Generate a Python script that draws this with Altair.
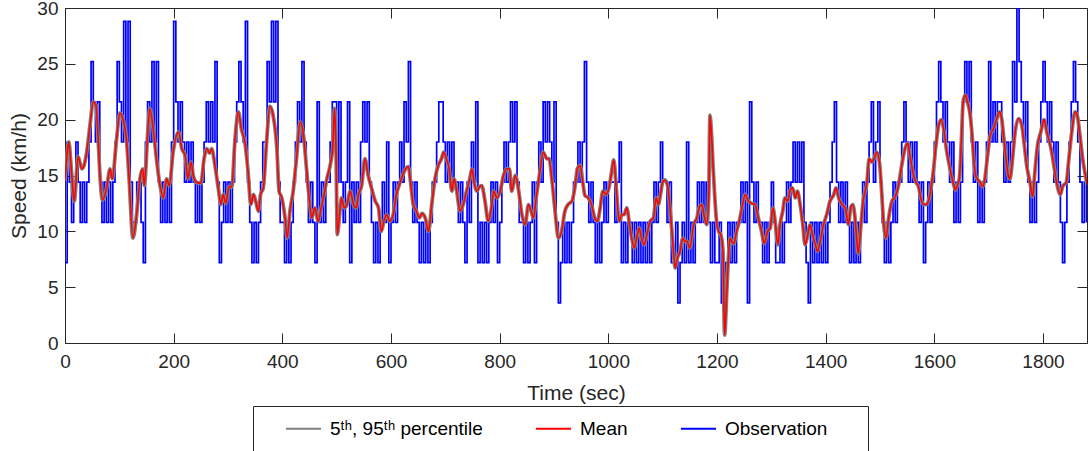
import altair as alt
import pandas as pd

# ---------------- data ----------------
SPEED_UNIT = 3.6   # observation levels are multiples of 3.6 km/h
OBS_STEP = 4       # one observation digit per 4 s

# observation: digit k -> k * 3.6 km/h, one digit per 4 s
obs_0000 = ("2543454343" "4576564343" "4345765858" "4334432565" "7574343435"
            "8656545454" "3434565657" "4234343456" "7658432323" "4557686843")
obs_0400 = ("3232345657" "5434326343" "4456646434" "6243435656" "4323234352"
            "3434546574" "3432323234" "4566545454" "4343243546" "2323234342")
obs_0800 = ("3454565643" "3232342454" "6565463123" "2323445457" "4343232343"
            "4443452323" "3232323232" "3434544342" "2312325232" "3434343232")
obs_1200 = ("2311232323" "3434164343" "3232343223" "2343454545" "3213232323"
            "2345643434" "3232323434" "5645643232" "3434456545" "4543423434")
obs_1600 = ("5676565453" "4346767545" "3434575656" "6545457697" "6564343456"
            "7656545432" "3456765434" "3")

# mean prediction (time s, speed km/h)
mean_0000 = [(0,14.5),(4,17.0),(7,18.0),(12,15.3),(17,12.7),(24,16.7),(31,15.6),(35,15.9),
             (40,17.1),(46,19.5),(52,21.6),(57,21.3),(61,18.3),(64,15.3),(69,12.8),(77,14.0),
             (83,15.6),(87,14.7),(95,18.3),(101,20.6),(107,20.0),(113,18.3),(118,14.7),(125,9.4),
             (132,11.6),(138,14.7),(143,15.6),(146,14.1),(152,18.6),(156,21.0),(163,18.9),(169,16.2),
             (175,14.1),(181,13.0),(187,14.7),(192,14.1),(199,17.1),(209,18.9),(215,17.4),(221,16.8),
             (226,14.7),(232,16.2),(236,15.0),(242,14.4),(250,14.3),(256,16.5),(261,17.4),(266,17.0),
             (270,17.4),(276,15.9),(282,13.9),(287,12.4),(291,13.3),(296,12.5),(302,14.0),(307,14.0),
             (313,18.3),(319,20.7),(325,19.1),(331,18.0),(337,15.3),(342,12.4),(347,13.3),(351,12.7),
             (356,11.8),(360,13.3),(365,13.9),(371,18.0),(377,21.2),(383,20.4),(390,17.4),(394,13.6),
             (399,13.0)]
mean_0400 = [(405,11.2),(409,9.4),(414,11.8),(420,13.6),(426,16.5),(433,19.8),(439,18.6),(444,15.9),
             (450,12.7),(454,11.2),(460,12.1),(466,10.9),(472,12.2),(478,13.6),(482,14.7),(488,15.9),
             (493,17.7),(496,21.0),(499,16.8),(501,9.7),(506,11.8),(509,13.0),(514,12.1),(519,12.4),
             (525,13.6),(531,12.4),(536,12.1),(540,13.3),(546,14.1),(552,16.5),(558,15.0),(564,13.9),
             (571,12.7),(577,12.1),(582,10.0),(587,10.9),(592,11.5),(598,10.9),(604,11.5),(610,13.3),
             (617,14.4),(623,15.2),(627,15.6),(632,15.8),(636,14.4),(641,12.4),(647,11.8),(652,11.2),
             (657,11.6),(663,11.2),(669,10.0),(675,12.4),(681,14.7),(687,15.9),(693,16.5),(697,17.1),
             (702,16.5),(707,15.6),(712,13.6),(716,14.7),(721,13.6),(727,11.8),(733,12.4),(739,13.6),
             (745,14.7),(749,15.6),(753,14.4),(758,13.6),(763,14.0),(767,14.1),(773,12.7),(779,10.9),
             (784,11.8),(789,13.6),(795,13.0)]
mean_0800 = [(801,13.6),(807,15.0),(813,15.6),(818,15.6),(822,13.6),(829,15.0),(835,13.6),(841,11.5),
             (847,10.6),(853,12.4),(858,11.8),(862,11.2),(868,13.3),(874,15.3),(880,17.1),(887,16.5),
             (891,16.5),(896,14.7),(902,11.8),(908,9.4),(914,10.0),(920,11.8),(926,12.4),(933,12.7),
             (939,14.1),(943,15.6),(948,15.9),(953,14.4),(957,13.2),(963,13.0),(969,12.4),(975,11.2),
             (980,10.9),(985,12.1),(990,13.6),(996,13.3),(1002,14.1),(1006,15.3),(1010,16.4),(1015,13.6),
             (1020,10.9),(1025,11.5),(1029,11.5),(1034,12.1),(1039,10.6),(1043,9.4),(1048,8.5),(1052,9.4),
             (1057,10.3),(1061,9.4),(1066,8.8),(1071,9.7),(1077,10.9),(1083,11.2),(1088,13.0),(1092,12.4),
             (1096,13.3),(1100,14.4),(1104,14.6),(1109,14.1),(1114,11.8),(1119,8.8),(1123,6.7),(1127,7.6),
             (1132,8.2),(1137,9.4),(1141,9.1),(1145,9.1),(1150,8.5),(1157,10.6),(1163,11.2),(1167,12.1),
             (1172,12.4),(1176,11.5),(1181,10.6),(1185,13.6),(1187,20.4),(1190,18.6),(1193,15.6),(1196,13.0),
             (1199,11.0)]
mean_1200 = [(1203,10.0),(1207,9.7),(1211,8.2),(1214,0.7),(1218,4.6),(1221,7.6),(1224,9.4),(1227,9.1),
             (1231,8.9),(1236,10.0),(1241,10.9),(1246,12.1),(1252,13.3),(1258,12.7),(1264,12.5),(1270,12.4),
             (1276,11.2),(1282,10.0),(1287,8.9),(1293,10.0),(1298,10.3),(1303,12.1),(1307,10.9),(1312,8.8),
             (1316,10.6),(1321,11.8),(1325,13.0),(1330,12.7),(1334,13.6),(1339,13.9),(1344,13.0),(1348,13.6),
             (1353,12.4),(1358,10.6),(1362,8.8),(1367,9.7),(1371,10.6),(1376,9.7),(1381,8.8),(1385,8.2),
             (1390,9.1),(1396,10.6),(1402,11.5),(1408,12.7),(1415,13.3),(1419,13.9),(1424,13.0),(1430,12.4),
             (1436,12.1),(1442,10.6),(1446,12.1),(1450,12.4),(1454,11.2),(1457,9.4),(1460,8.0),(1465,10.6),
             (1469,12.7),(1476,14.4),(1480,16.5),(1485,16.2),(1489,16.5),(1494,17.1),(1499,16.2),(1503,13.6),
             (1506,11.2),(1511,9.4),(1516,11.2),(1522,12.7),(1528,13.1),(1534,14.1),(1540,15.9),(1546,17.4),
             (1551,17.9),(1555,16.8),(1562,15.0),(1566,14.4),(1571,14.0),(1575,13.0),(1580,12.4),(1585,12.4),
             (1589,12.7),(1593,13.6),(1598,15.3)]
mean_1600 = [(1603,17.7),(1608,19.5),(1613,20.0),(1618,18.9),(1623,17.1),(1629,15.6),(1635,14.3),(1639,13.7),
             (1642,14.1),(1646,14.7),(1650,18.3),(1653,21.6),(1657,22.2),(1661,21.6),(1666,20.4),(1670,18.3),
             (1673,16.2),(1676,15.0),(1679,14.7),(1684,14.4),(1689,14.0),(1693,14.7),(1698,16.8),(1703,18.6),
             (1709,19.2),(1715,20.1),(1720,20.7),(1724,20.1),(1728,18.3),(1732,16.5),(1736,15.0),(1739,14.7),
             (1744,16.5),(1748,18.6),(1755,20.1),(1761,19.5),(1765,18.0),(1770,15.9),(1776,14.4),(1781,13.1),
             (1785,15.3),(1790,17.7),(1796,18.9),(1802,20.0),(1807,18.9),(1812,18.0),(1816,17.1),(1820,15.9),
             (1825,14.4),(1832,13.3),(1836,14.0),(1843,14.4),(1847,16.2),(1853,18.9),(1859,20.7),(1863,20.4),
             (1868,18.6),(1873,16.5),(1877,15.3),(1881,14.2)]

PCT = "5\u1d57\u02b0, 95\u1d57\u02b0 percentile"
series_names = [PCT, "Mean", "Observation"]
series_colors = ["#808080", "#ff0000", "#0000ff"]
x_ticks = [0, 200, 400, 600, 800, 1000, 1200, 1400, 1600, 1800]
y_ticks = [0, 5, 10, 15, 20, 25, 30]
x_range = [0, 1881]
y_range = [0, 30]

# ---------------- tables ----------------
obs_digits = obs_0000 + obs_0400 + obs_0800 + obs_1200 + obs_1600
obs_df = pd.DataFrame({
    "t": [OBS_STEP * i for i in range(len(obs_digits))],
    "v": [int(c) * SPEED_UNIT for c in obs_digits],
})
obs_df["series"] = "Observation"

mean_df = pd.DataFrame(mean_0000 + mean_0400 + mean_0800 + mean_1200 + mean_1600, columns=["t", "v"])
mean_df["series"] = "Mean"
pct_df = mean_df.assign(series=PCT)

# ---------------- chart ----------------
FONT = "Liberation Sans"
AX = "#262626"
BLANK_PAD = "\u2800" * 2   # blank glyphs that widen the legend box on the right

x_scale = alt.Scale(domain=x_range, nice=False, zero=False)
y_scale = alt.Scale(domain=y_range, nice=False)

legend = alt.Legend(
    orient="none", legendX=188, legendY=398, direction="horizontal",
    title="nn", titleOrient="left", titleOpacity=0, titleFontSize=19, titlePadding=4,
    symbolType="M-1.85,0L1.85,0", symbolSize=361, symbolStrokeWidth=2,
    labelFont=FONT, labelFontSize=19, labelColor="#000000", labelOffset=16,
    columnPadding=48, padding=12,
    strokeColor=AX, fillColor="#ffffff",
    labelExpr="datum.label == 'Observation' ? 'Observation" + BLANK_PAD + "' : datum.label",
)
color = alt.Color("series:N", scale=alt.Scale(domain=series_names, range=series_colors),
                  legend=legend)

bottom_axis = alt.Axis(orient="bottom", values=x_ticks, format="d", offset=-10, tickSize=10,
                       domain=False, grid=False, labelPadding=9, labelFontSize=19,
                       titleFontSize=21, titlePadding=11, labelFlush=False)
left_axis = alt.Axis(orient="left", values=y_ticks, format="d", offset=-10, tickSize=10,
                     domain=False, grid=False, labelPadding=7, labelFontSize=19,
                     titleFontSize=21, titlePadding=7)
top_axis = alt.Axis(orient="top", values=x_ticks, labels=False, offset=-10, tickSize=10,
                    domain=False, grid=False)
right_axis = alt.Axis(orient="right", values=y_ticks, labels=False, offset=-10, tickSize=10,
                      domain=False, grid=False)

obs_layer = alt.Chart(obs_df).mark_line(
    interpolate="step-after", strokeWidth=1.7, clip=True
).encode(
    x=alt.X("t:Q", scale=x_scale, axis=bottom_axis, title="Time (sec)"),
    y=alt.Y("v:Q", scale=y_scale, axis=left_axis, title="Speed (km/h)"),
    color=color,
)

pct_layer = alt.Chart(pct_df).mark_line(
    interpolate="monotone", strokeWidth=3.8, clip=True
).encode(
    x=alt.X("t:Q", scale=x_scale, axis=None),
    y=alt.Y("v:Q", scale=y_scale, axis=None),
    color=color,
)

mean_layer = alt.Chart(mean_df).mark_line(
    interpolate="monotone", strokeWidth=1.6, clip=True
).encode(
    x=alt.X("t:Q", scale=x_scale, axis=top_axis, title=None),
    y=alt.Y("v:Q", scale=y_scale, axis=right_axis, title=None),
    color=color,
)

chart = alt.layer(obs_layer, pct_layer, mean_layer).resolve_axis(
    x="independent", y="independent"
).properties(
    width=1022, height=335,
    autosize=alt.AutoSizeParams(type="none"),
    padding={"left": 65, "top": 8, "right": 2, "bottom": 108},
    background="#ffffff",
).configure_view(
    stroke=AX, strokeWidth=1
).configure_axis(
    labelFont=FONT, titleFont=FONT, labelColor=AX, titleColor=AX,
    tickColor=AX, tickWidth=1, titleFontWeight="normal"
)

chart.save("out.html", embed_options={"renderer": "svg", "actions": False})
